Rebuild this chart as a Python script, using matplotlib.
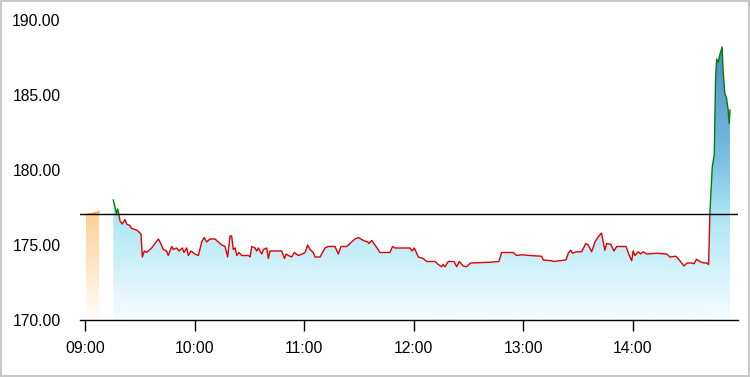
import numpy as np
import matplotlib
matplotlib.use("Agg")
import matplotlib.pyplot as plt
from matplotlib.colors import LinearSegmentedColormap
from matplotlib.patches import Rectangle

plt.rcParams['font.family'] = ['Liberation Sans', 'DejaVu Sans']

# minutes after 09:00 and price
pre_minutes = [0.5, 3.0, 5.5, 7.7]
pre_prices = [177.03, 177.07, 177.13, 177.2]

minutes = [15.5, 17.3, 17.9, 18.6, 19.2, 20.4, 21.9, 22.8, 24.6, 25.5, 28.3, 30.1, 30.7, 31.4,
           32.5, 33.8, 36.5, 40.2, 41.1, 42.9, 44.7, 45.6, 47.5, 48.4, 50.2, 51.5, 53.3, 54.2,
           55.7, 56.6, 58.0, 60.2, 62.1, 63.9, 65.3, 66.6, 68.4, 71.2, 73.0, 74.9, 76.7, 78.1,
           79.4, 80.3, 81.2, 82.2, 83.1, 84.3, 85.8, 89.5, 90.4, 91.3, 93.1, 94.0, 94.9, 96.8,
           97.7, 99.5, 100.4, 101.3, 104.1, 107.7, 109.2, 110.1, 111.4, 113.2, 114.6, 116.8,
           119.0, 120.5, 121.9, 123.2, 125.0, 125.9, 128.7, 130.5, 131.4, 133.2, 136.9, 138.7,
           140.2, 143.3, 145.1, 147.8, 149.7, 151.1, 152.4, 154.8, 155.5, 157.0, 158.8, 161.5,
           167.0, 168.4, 169.7, 177.9, 179.2, 180.3, 182.5, 185.2, 187.1, 188.9, 191.6, 193.4,
           195.3, 196.1, 197.1, 198.9, 202.0, 203.5, 204.9, 207.1, 208.9, 211.1, 221.7, 226.6,
           228.1, 234.5, 236.3, 239.0, 243.6, 250.0, 250.9, 255.5, 256.7, 260.0, 263.3, 264.6,
           265.9, 267.0, 269.2, 271.9, 274.2, 275.5, 277.4, 279.2, 281.0, 282.8, 284.6, 285.6,
           287.8, 289.6, 291.1, 296.2, 298.0, 299.3, 300.1, 301.1, 302.9, 304.2, 305.6, 307.5,
           313.0, 318.4, 320.2, 323.5, 325.7, 327.9, 329.7, 332.1, 333.4, 334.8, 336.6, 338.8,
           340.3, 341.4, 342.1, 343.4, 344.5, 345.2, 345.8, 346.7, 347.6, 348.8, 349.4, 350.3,
           351.2, 352.1, 352.7, 353.1]
prices = [178.0, 177.1, 177.4, 177.0, 176.6, 176.4, 176.7, 176.4, 176.3, 176.1, 176.0, 175.8, 175.7, 174.2,
          174.6, 174.5, 174.8, 175.4, 175.2, 174.7, 174.6, 174.3, 174.9, 174.7, 174.8, 174.6, 174.8, 174.5,
          174.8, 174.3, 174.6, 174.4, 174.3, 175.2, 175.5, 175.2, 175.4, 175.4, 175.2, 175.0, 174.9, 174.2,
          175.6, 175.6, 174.7, 174.8, 174.3, 174.5, 174.3, 174.3, 174.2, 174.9, 174.8, 174.6, 174.8, 174.4,
          174.7, 174.8, 174.1, 174.6, 174.6, 174.6, 174.1, 174.4, 174.3, 174.2, 174.5, 174.3,
          174.4, 174.5, 175.0, 174.7, 174.5, 174.2, 174.2, 174.6, 174.8, 174.9, 174.9, 174.4,
          174.9, 174.9, 175.1, 175.4, 175.5, 175.4, 175.3, 175.2, 175.1, 175.3, 175.0, 174.5,
          174.5, 174.9, 174.8, 174.8, 174.6, 174.8, 174.2, 174.1, 173.9, 173.9, 173.9, 173.7,
          173.55, 173.7, 173.55, 173.9, 173.9, 173.55, 173.9, 173.6, 173.55, 173.8, 173.85, 173.9,
          174.5, 174.5, 174.3, 174.35, 174.3, 174.25, 174.0, 173.95, 173.9, 173.95, 174.0, 174.45,
          174.65, 174.45, 174.55, 174.55, 175.1, 175.0, 174.55, 175.2, 175.55, 175.8, 174.65, 175.1,
          175.05, 174.6, 174.9, 174.9, 174.3, 173.95, 174.6, 174.3, 174.55, 174.4, 174.55, 174.4,
          174.45, 174.4, 174.2, 174.25, 173.95, 173.6, 173.8, 173.8, 173.75, 174.05, 173.9, 173.8,
          173.8, 173.7, 177.1, 180.2, 181.0, 186.0, 187.4, 187.2, 187.7, 188.2, 186.5, 185.1,
          184.8, 184.0, 183.1, 184.0]

prev_close = 177.07
tick_minutes = [0, 60, 120, 180, 240, 300]
tick_labels = ['09:00', '10:00', '11:00', '12:00', '13:00', '14:00']

y_min, y_max = 170, 190
x_min, x_max = -2.7, 357.5

fig = plt.figure(figsize=(7.5, 3.77), dpi=100, edgecolor='#c8c8c8', linewidth=1.5)
ax = fig.add_axes([0.1067, 0.1512, 0.8773, 0.7958])


def gradient_fill(x, y, colors, top):
    poly = ax.fill_between(x, y, y_min, color='none', lw=0)
    cmap = LinearSegmentedColormap.from_list('g', colors)
    grad = np.linspace(0, 1, 256).reshape(-1, 1)
    im = ax.imshow(grad, extent=[x[0], x[-1], y_min, top], origin='lower',
                   aspect='auto', cmap=cmap, zorder=1)
    im.set_clip_path(poly.get_paths()[0], ax.transData)


# pre-market block
gradient_fill(pre_minutes, pre_prices,
              [(0, '#ffffff'), (0.3, '#fff0dc'), (1, '#fdcf94')], max(pre_prices))
ax.plot(pre_minutes, pre_prices, color='#f5a623', lw=1.2, zorder=3)

# session
gradient_fill(minutes, prices,
              [(0, '#f6fcfe'), (0.3, '#bcebf7'), (0.4, '#a8e2f3'), (0.6, '#78bde2'), (1, '#4a8cc4')],
              max(prices))

above = Rectangle((x_min, prev_close), x_max - x_min, y_max - prev_close, transform=ax.transData)
below = Rectangle((x_min, y_min), x_max - x_min, prev_close - y_min, transform=ax.transData)
l_up, = ax.plot(minutes, prices, color='#008000', lw=1, zorder=3)
l_up.set_clip_path(above)
l_dn, = ax.plot(minutes, prices, color='#e00000', lw=1, zorder=3)
l_dn.set_clip_path(below)

ax.axhline(prev_close, color='black', lw=1, zorder=4)

ax.set_xlim(x_min, x_max)
ax.set_ylim(y_min, y_max)
ax.set_xticks(tick_minutes)
ax.set_xticklabels(tick_labels)
ax.set_yticks([170, 175, 180, 185, 190])
ax.set_yticklabels([f'{v:.2f}' for v in [170, 175, 180, 185, 190]])

for s in ['top', 'right', 'left']:
    ax.spines[s].set_visible(False)
ax.spines['bottom'].set_linewidth(1)
ax.tick_params(axis='y', length=0, pad=14, labelsize=11.3)
ax.tick_params(axis='x', length=8, width=1, pad=7, labelsize=11.3)
ax.set_facecolor('none')

fig.savefig('out.png', dpi=100)
